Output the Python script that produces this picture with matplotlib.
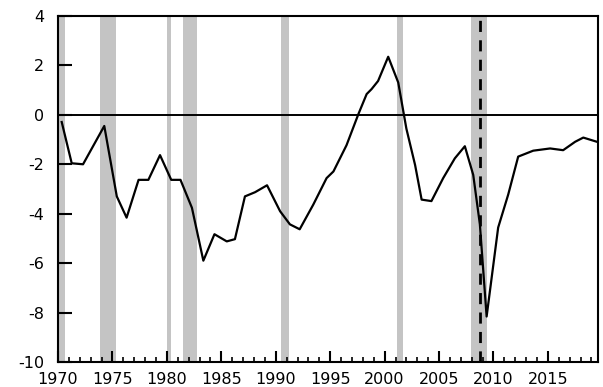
import matplotlib
matplotlib.use('Agg')
import matplotlib.pyplot as plt
from matplotlib.ticker import MultipleLocator

plt.rcParams['axes.unicode_minus'] = False

# series (fractional year, value)
years = [1970.34, 1971.26, 1972.3, 1974.25, 1975.4, 1976.3, 1977.4, 1978.3,
         1979.37, 1980.4, 1981.25, 1982.3, 1983.35, 1984.37, 1985.5, 1986.25,
         1987.17, 1988.1, 1989.2, 1990.4, 1991.3, 1992.2, 1993.45, 1994.67,
         1995.3, 1996.5, 1997.6, 1998.35, 1998.8, 1999.4, 2000.33, 2001.25,
         2002.0, 2002.8, 2003.4, 2004.3, 2005.38, 2006.45, 2007.37, 2008.14,
         2008.75, 2009.37, 2010.43, 2011.35, 2012.27, 2013.65, 2015.2, 2016.4,
         2017.5, 2018.25, 2019.5]
values = [-0.29, -1.96, -2.0, -0.45, -3.3, -4.16, -2.63, -2.63,
          -1.63, -2.63, -2.63, -3.76, -5.9, -4.83, -5.12, -5.03,
          -3.3, -3.13, -2.85, -3.9, -4.43, -4.63, -3.63, -2.56,
          -2.29, -1.23, 0.04, 0.84, 1.04, 1.37, 2.35, 1.31,
          -0.56, -2.03, -3.43, -3.49, -2.56, -1.76, -1.27, -2.43,
          -4.43, -8.16, -4.56, -3.23, -1.69, -1.45, -1.36, -1.43,
          -1.09, -0.92, -1.09]

# recession periods
rec_start = [1969.9, 1973.9, 1980.0, 1981.5, 1990.5, 2001.1, 2007.9]
rec_end = [1970.6, 1975.3, 1980.4, 1982.8, 1991.2, 2001.7, 2009.4]
event_year = 2008.75

fig = plt.figure(figsize=(6.03, 3.87), dpi=100)
ax = fig.add_axes([0.0962, 0.0646, 0.8955, 0.8941])

for s, e in zip(rec_start, rec_end):
    ax.axvspan(s, e, color='#c4c4c4', lw=0, zorder=0)

ax.axhline(0, color='black', lw=1.4, zorder=1)
ax.axvline(event_year, color='black', lw=2, dashes=(4, 3), zorder=2)
ax.plot(years, values, color='black', lw=1.6, zorder=3)

ax.set_xlim(1970, 2019.6)
ax.set_ylim(-10, 4)
ax.set_yticks(range(-10, 5, 2))
ax.set_xticks(range(1970, 2019, 5))
ax.xaxis.set_minor_locator(MultipleLocator(1))

ax.tick_params(axis='y', direction='in', length=10, width=1.5, pad=10,
               labelsize=11.5, left=True, right=False)
ax.tick_params(axis='x', which='major', direction='in', length=8, width=1.5,
               pad=7, labelsize=11.5, top=False)
ax.tick_params(axis='x', which='minor', direction='in', length=3.5, width=1.2,
               top=False)

for sp in ax.spines.values():
    sp.set_linewidth(1.5)

fig.savefig('out.png', dpi=100)
